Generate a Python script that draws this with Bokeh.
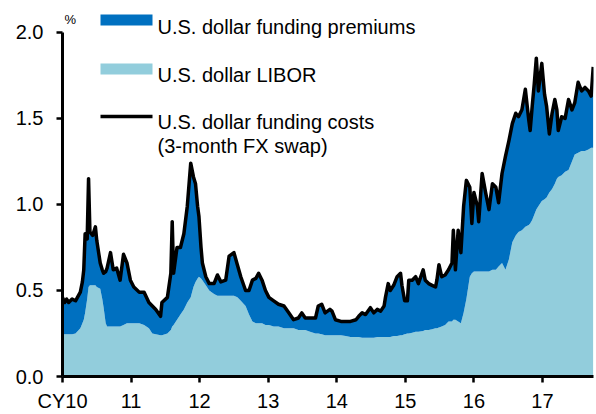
from bokeh.plotting import figure
from bokeh.models import (FixedTicker, Label, BoxAnnotation, Range1d,
                          ColumnDataSource, PrintfTickFormatter)
from bokeh.embed import file_html
from bokeh.resources import INLINE

# ---- data (decimal years, %) ----
dates = [
    2010.00, 2010.03, 2010.06, 2010.09, 2010.14, 2010.19, 2010.26, 2010.29, 2010.31, 2010.33,
    2010.36, 2010.38, 2010.40, 2010.44, 2010.48, 2010.50, 2010.55, 2010.58, 2010.60, 2010.63,
    2010.65, 2010.70, 2010.74, 2010.79, 2010.84, 2010.89, 2010.94, 2010.99, 2011.04, 2011.12,
    2011.19, 2011.26, 2011.31, 2011.36, 2011.43, 2011.45, 2011.53, 2011.58, 2011.60, 2011.62,
    2011.67, 2011.72, 2011.77, 2011.82, 2011.87, 2011.91, 2011.94, 2011.97, 2011.99, 2012.02,
    2012.04, 2012.09, 2012.14, 2012.21, 2012.26, 2012.31, 2012.38, 2012.43, 2012.50, 2012.55,
    2012.60, 2012.67, 2012.72, 2012.77, 2012.82, 2012.86, 2012.91, 2012.96, 2013.01, 2013.08,
    2013.15, 2013.23, 2013.30, 2013.37, 2013.44, 2013.49, 2013.54, 2013.61, 2013.69, 2013.73,
    2013.78, 2013.83, 2013.90, 2013.93, 2013.98, 2014.06, 2014.13, 2014.20, 2014.28, 2014.32,
    2014.37, 2014.42, 2014.49, 2014.54, 2014.59, 2014.64, 2014.69, 2014.71, 2014.75, 2014.78,
    2014.83, 2014.88, 2014.93, 2014.95, 2014.99, 2015.03, 2015.05, 2015.10, 2015.15, 2015.19,
    2015.26, 2015.29, 2015.34, 2015.39, 2015.44, 2015.46, 2015.49, 2015.53, 2015.58, 2015.63,
    2015.68, 2015.70, 2015.73, 2015.77, 2015.81, 2015.85, 2015.89, 2015.94, 2015.97, 2016.00,
    2016.05, 2016.07, 2016.12, 2016.17, 2016.22, 2016.27, 2016.32, 2016.36, 2016.41, 2016.46,
    2016.51, 2016.56, 2016.61, 2016.65, 2016.70, 2016.75, 2016.80, 2016.82, 2016.85, 2016.88,
    2016.91, 2016.94, 2016.99, 2017.03, 2017.06, 2017.10, 2017.14, 2017.18, 2017.21, 2017.23,
    2017.28, 2017.33, 2017.38, 2017.43, 2017.47, 2017.52, 2017.57, 2017.62, 2017.67, 2017.71,
    2017.74,
]

# U.S. dollar funding costs (3-month FX swap)
funding_cost = [
    0.46, 0.43, 0.45, 0.43, 0.45, 0.44, 0.49, 0.55, 0.62, 0.83,
    0.80, 1.15, 0.84, 0.82, 0.87, 0.79, 0.66, 0.62, 0.60, 0.61,
    0.63, 0.72, 0.62, 0.63, 0.56, 0.71, 0.66, 0.56, 0.52, 0.49,
    0.49, 0.43, 0.41, 0.39, 0.35, 0.43, 0.46, 0.60, 0.90, 0.60,
    0.75, 0.75, 0.83, 0.99, 1.24, 1.16, 1.12, 0.99, 0.93, 0.75,
    0.66, 0.58, 0.54, 0.54, 0.59, 0.55, 0.56, 0.70, 0.72, 0.65,
    0.58, 0.50, 0.50, 0.56, 0.57, 0.60, 0.56, 0.50, 0.46, 0.44,
    0.42, 0.41, 0.37, 0.33, 0.34, 0.37, 0.34, 0.34, 0.34, 0.41,
    0.42, 0.37, 0.39, 0.38, 0.33, 0.32, 0.32, 0.32, 0.33, 0.35,
    0.37, 0.36, 0.40, 0.37, 0.39, 0.38, 0.41, 0.46, 0.54, 0.50,
    0.53, 0.58, 0.60, 0.53, 0.44, 0.44, 0.56, 0.56, 0.58, 0.54,
    0.62, 0.56, 0.54, 0.53, 0.52, 0.56, 0.65, 0.58, 0.59, 0.62,
    0.66, 0.85, 0.62, 0.85, 0.72, 0.99, 1.14, 1.10, 0.89, 1.07,
    0.99, 0.90, 1.18, 1.07, 0.97, 1.12, 1.10, 1.01, 1.18, 1.28,
    1.37, 1.47, 1.53, 1.51, 1.55, 1.67, 1.49, 1.43, 1.57, 1.70,
    1.85, 1.66, 1.82, 1.64, 1.57, 1.41, 1.53, 1.61, 1.55, 1.43,
    1.51, 1.50, 1.61, 1.55, 1.59, 1.71, 1.66, 1.68, 1.66, 1.63,
    1.80,
]

# U.S. dollar LIBOR (3-month)
libor = [
    0.245, 0.245, 0.245, 0.245, 0.245, 0.25, 0.28, 0.31, 0.33, 0.37,
    0.45, 0.52, 0.53, 0.53, 0.53, 0.52, 0.51, 0.45, 0.40, 0.31,
    0.29, 0.29, 0.29, 0.29, 0.29, 0.30, 0.31, 0.31, 0.31, 0.31,
    0.30, 0.28, 0.25, 0.245, 0.24, 0.24, 0.25, 0.27, 0.29, 0.30,
    0.33, 0.36, 0.39, 0.43, 0.46, 0.52, 0.55, 0.57, 0.58, 0.57,
    0.56, 0.53, 0.50, 0.48, 0.47, 0.47, 0.47, 0.47, 0.47, 0.46,
    0.44, 0.41, 0.36, 0.32, 0.31, 0.31, 0.31, 0.30, 0.30, 0.29,
    0.29, 0.28, 0.28, 0.28, 0.27, 0.27, 0.27, 0.26, 0.25, 0.25,
    0.245, 0.24, 0.24, 0.24, 0.24, 0.24, 0.235, 0.23, 0.23, 0.23,
    0.225, 0.225, 0.225, 0.225, 0.23, 0.23, 0.23, 0.23, 0.23, 0.23,
    0.235, 0.235, 0.24, 0.24, 0.245, 0.25, 0.25, 0.255, 0.26, 0.26,
    0.265, 0.27, 0.27, 0.275, 0.28, 0.28, 0.285, 0.29, 0.30, 0.32,
    0.32, 0.33, 0.33, 0.32, 0.31, 0.37, 0.45, 0.58, 0.60, 0.61,
    0.61, 0.61, 0.61, 0.61, 0.61, 0.62, 0.62, 0.64, 0.66, 0.62,
    0.68, 0.78, 0.82, 0.84, 0.85, 0.87, 0.88, 0.89, 0.91, 0.94,
    0.97, 0.99, 1.02, 1.03, 1.04, 1.07, 1.09, 1.12, 1.15, 1.16,
    1.17, 1.19, 1.20, 1.25, 1.29, 1.30, 1.31, 1.31, 1.32, 1.33,
    1.33,
]

year_ticks = [2010, 2011, 2012, 2013, 2014, 2015, 2016, 2017]
year_labels = ["CY10", "11", "12", "13", "14", "15", "16", "17"]
y_ticks = [0.0, 0.5, 1.0, 1.5, 2.0]

legend_labels = ["U.S. dollar funding premiums", "U.S. dollar LIBOR",
                 "U.S. dollar funding costs", "(3-month FX swap)"]

DARK = "#0070C0"
LIGHT = "#92CDDC"
FONT = "Liberation Sans"

X_START, X_END = 2010.0, 2017.744

src = ColumnDataSource(dict(x=dates, libor=libor, cost=funding_cost,
                            zero=[0.0] * len(dates)))

# frame spans the full height (room for the legend); y axis line bounded to 0-2
p = figure(width=594, height=414, output_backend="svg", toolbar_location=None,
           x_range=Range1d(X_START, X_END),
           y_range=Range1d(0, 377 / 172.5),
           min_border_left=62, min_border_right=1, min_border_top=0,
           min_border_bottom=37)
p.outline_line_color = None
p.xgrid.visible = False
p.ygrid.visible = False
p.background_fill_color = "white"
p.border_fill_color = "white"

p.varea(x="x", y1="zero", y2="libor", source=src, fill_color=LIGHT, fill_alpha=1.0)
p.varea(x="x", y1="libor", y2="cost", source=src, fill_color=DARK, fill_alpha=1.0)
p.line(x="x", y="cost", source=src, line_color="black", line_width=3.5,
       line_join="round")

# axes
p.xaxis.ticker = FixedTicker(ticks=year_ticks)
p.xaxis.major_label_overrides = {t: l for t, l in zip(year_ticks, year_labels)}
p.yaxis.ticker = FixedTicker(ticks=y_ticks)
p.yaxis.formatter = PrintfTickFormatter(format="%.1f")
p.yaxis.bounds = (0, 2.0)
for ax in (p.xaxis, p.yaxis):
    ax.minor_tick_line_color = None
    ax.major_tick_in = 0
    ax.major_tick_out = 6
    ax.axis_line_color = "black"
    ax.axis_line_width = 3
    ax.major_tick_line_color = "black"
    ax.major_tick_line_width = 2.5
    ax.major_label_text_font = FONT
    ax.major_label_text_font_size = "20px"
    ax.major_label_text_color = "black"
p.xaxis.major_label_standoff = 7
p.yaxis.major_label_standoff = 13

# unit label (kept just inside the plot frame, above the top of the y axis)
p.add_layout(Label(x=2, y=357, x_units="screen", y_units="screen", text="%",
                   text_font=FONT, text_font_size="13px", text_color="black",
                   text_align="left", text_baseline="alphabetic"))

# legend (manual, top-left)
def swatch(bottom, top, color):
    return BoxAnnotation(left=38, right=90, bottom=bottom, top=top,
                         left_units="screen", right_units="screen",
                         bottom_units="screen", top_units="screen",
                         fill_color=color, fill_alpha=1.0, line_color=None)

p.add_layout(swatch(351, 362, DARK))
p.add_layout(swatch(302, 313, LIGHT))
p.add_layout(swatch(258.3, 261.7, "black"))

for txt, yb in zip(legend_labels, [349.7, 301.3, 254.3, 230.3]):
    p.add_layout(Label(x=95, y=yb, x_units="screen", y_units="screen", text=txt,
                       text_font=FONT, text_font_size="20px", text_color="black",
                       text_align="left", text_baseline="alphabetic"))

open("out.html", "w").write(file_html(p, INLINE))
